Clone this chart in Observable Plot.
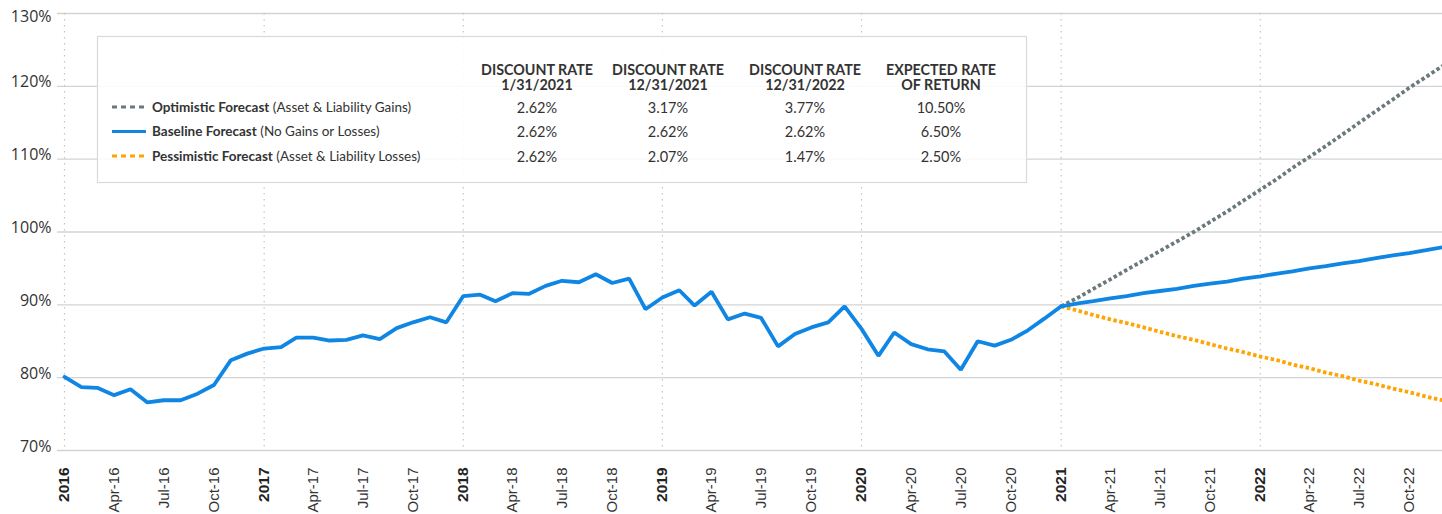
<!DOCTYPE html>
<html><head><meta charset="utf-8">
<script src="https://cdn.jsdelivr.net/npm/d3@7"></script>
<script src="https://cdn.jsdelivr.net/npm/@observablehq/plot@0.6"></script>
<style>
body{margin:0;background:#fff;}
#wrap{position:relative;width:1442px;height:514px;overflow:hidden;}
#wrap svg.overlay{position:absolute;left:0;top:0;pointer-events:none;}
</style></head><body><div id="wrap"></div>
<script>
// Funded ratio, monthly from Jan 2016 to Jan 2021
const historical = [80.1,78.7,78.6,77.6,78.4,76.6,76.9,76.9,77.8,79.0,82.4,83.3,
  84.0,84.2,85.5,85.5,85.1,85.2,85.8,85.3,86.8,87.6,88.3,87.6,
  91.2,91.4,90.5,91.6,91.5,92.6,93.3,93.1,94.2,93.0,93.6,89.4,
  91.0,92.0,89.9,91.8,88.0,88.8,88.2,84.3,86.0,86.9,87.6,89.8,
  86.7,83.0,86.2,84.6,83.9,83.6,81.1,85.0,84.4,85.2,86.5,88.1,
  89.8];
// Forecasts, monthly from Jan 2021 to Dec 2022
const optimistic = [89.8,91.0,92.2,93.5,94.8,96.1,97.4,98.7,100.0,101.4,102.8,104.3,
  105.8,107.3,108.8,110.3,111.8,113.4,115.0,116.6,118.2,119.8,121.3,122.8];
const baseline = [89.8,90.2,90.5,90.9,91.2,91.6,91.9,92.2,92.6,92.9,93.2,93.6,
  93.9,94.3,94.6,95.0,95.3,95.7,96.0,96.4,96.8,97.1,97.5,97.9];
const pessimistic = [89.8,89.2,88.6,88.0,87.5,86.9,86.3,85.7,85.2,84.6,84.0,83.5,
  82.9,82.4,81.8,81.3,80.7,80.2,79.6,79.1,78.5,78.0,77.4,76.9];

const yTicks = [70,80,90,100,110,120,130];
const years = [2016,2017,2018,2019,2020,2021,2022];

const scenarioNames = ["Optimistic Forecast","Baseline Forecast","Pessimistic Forecast"];
const scenarioNotes = ["(Asset & Liability Gains)","(No Gains or Losses)","(Asset & Liability Losses)"];
const columnHeaders = [["DISCOUNT RATE","1/31/2021"],["DISCOUNT RATE","12/31/2021"],["DISCOUNT RATE","12/31/2022"],["EXPECTED RATE","OF RETURN"]];
const ratesOptimistic = ["2.62%","3.17%","3.77%","10.50%"];
const ratesBaseline = ["2.62%","2.62%","2.62%","6.50%"];
const ratesPessimistic = ["2.62%","2.07%","1.47%","2.50%"];

const colors = {opt:"#6b797e", base:"#0f86e3", pess:"#ffa400"};

const month = i => new Date(Date.UTC(2016, i, 1));
const histData = historical.map((v,i)=>({date:month(i), value:v}));
const fc = arr => arr.map((v,i)=>({date:month(60+i), value:v}));
const optData = fc(optimistic), baseData = fc(baseline), pessData = fc(pessimistic);

const yearTicks = years.map(y=>new Date(Date.UTC(y,0,1)));
const quarterTicks = d3.utcMonth.every(3).range(month(0), month(84)).filter(d=>d.getUTCMonth()!==0);

const xFont = "'Liberation Sans', Arial, sans-serif";
const yFont = "'Open Sans', sans-serif";
const chart = Plot.plot({
  width:1442, height:514,
  marginLeft:57, marginRight:0, marginTop:13, marginBottom:64,
  insetLeft:7,
  x:{type:"utc", domain:[month(0), month(83)], label:null},
  y:{domain:[70,130], label:null},
  style:{fontFamily:"Lato, sans-serif", fontSize:"15px", color:"#333", background:"#fff", overflow:"visible"},
  marks:[
    Plot.ruleY(yTicks, {stroke:"#d3d3d3", strokeWidth:1.3}),
    Plot.ruleX(yearTicks, {stroke:"#c4c4c4", strokeDasharray:"1.5,4.5", strokeWidth:1.2}),
    Plot.axisY(yTicks.filter(v=>v<130), {tickSize:0, tickPadding:6, dy:-4, tickFormat:v=>v+"%", fontFamily:yFont, fontSize:16, fill:"#333"}),
    Plot.axisY([130], {tickSize:0, tickPadding:6, dy:3, tickFormat:v=>v+"%", fontFamily:yFont, fontSize:16, fill:"#333"}),
    Plot.axisX(quarterTicks, {tickSize:0, tickPadding:17, tickRotate:-90, tickFormat:d3.utcFormat("%b-%y"), fontFamily:xFont, fontSize:15, fill:"#333"}),
    Plot.axisX(yearTicks, {tickSize:0, tickPadding:17, tickRotate:-90, tickFormat:"%Y", fontFamily:xFont, fontSize:15.5, fontWeight:"bold", fill:"#222"}),
    Plot.line(optData, {x:"date", y:"value", stroke:colors.opt, strokeWidth:3.8, strokeDasharray:"3.5,2.5", strokeLinecap:"butt", strokeLinejoin:"miter"}),
    Plot.line(pessData, {x:"date", y:"value", stroke:colors.pess, strokeWidth:3.8, strokeDasharray:"3.5,2.5", strokeLinecap:"butt", strokeLinejoin:"miter"}),
    Plot.line(histData, {x:"date", y:"value", stroke:colors.base, strokeWidth:3.8, strokeLinejoin:"miter"}),
    Plot.line(baseData, {x:"date", y:"value", stroke:colors.base, strokeWidth:3.8, strokeLinejoin:"miter"})
  ]
});
const wrap = document.getElementById("wrap");
wrap.appendChild(chart);

// Legend / table overlay
const ov = d3.select(wrap).append("svg").attr("class","overlay").attr("width",1442).attr("height",514)
  .style("font-family","Lato, sans-serif").attr("fill","#333");
ov.append("rect").attr("x",97.5).attr("y",36.5).attr("width",929).attr("height",146)
  .attr("fill","rgba(255,255,255,0.88)").attr("stroke","#d9d9d9").attr("stroke-width",1.2);
const colX = [537,668,805,941];
columnHeaders.forEach((h,i)=>{
  h.forEach((line,j)=>{
    ov.append("text").attr("x",colX[i]).attr("y",75+j*14.5).attr("text-anchor","middle")
      .attr("font-size",14.3).attr("font-weight","bold").attr("fill","#333").text(line);
  });
});
const rowY = [111.5,136,160.5];
const rowColors = [colors.opt, colors.base, colors.pess];
const rowDash = ["5,4", null, "5,4"];
const rowRates = [ratesOptimistic, ratesBaseline, ratesPessimistic];
scenarioNames.forEach((name,i)=>{
  const ly = rowY[i]-4.5;
  const l = ov.append("line").attr("x1",112).attr("x2",146).attr("y1",ly).attr("y2",ly)
    .attr("stroke",rowColors[i]).attr("stroke-width",3.2);
  if (rowDash[i]) l.attr("stroke-dasharray",rowDash[i]);
  const t = ov.append("text").attr("x",152).attr("y",rowY[i]).attr("font-size",13.5).style("white-space","pre");
  t.append("tspan").attr("font-weight","bold").text(name);
  t.append("tspan").text(" " + scenarioNotes[i]);
  rowRates[i].forEach((r,j)=>{
    ov.append("text").attr("x",colX[j]).attr("y",rowY[i]+1).attr("text-anchor","middle")
      .attr("font-size",14.5).text(r);
  });
});
</script></body></html>
